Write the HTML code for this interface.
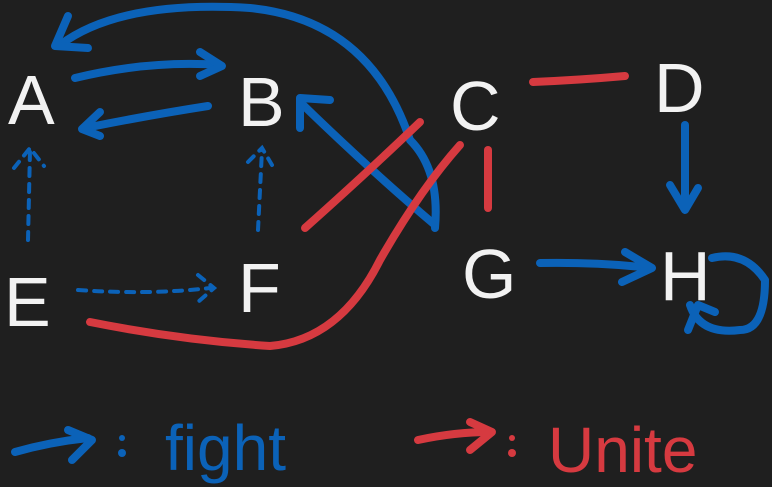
<!DOCTYPE html>
<html><head><meta charset="utf-8"><style>
html,body{margin:0;padding:0;background:#1f1f1f;}
svg{display:block}
text{font-family:"Liberation Sans",sans-serif;}
</style></head><body>
<svg width="772" height="487" viewBox="0 0 772 487" xmlns="http://www.w3.org/2000/svg">
<rect width="772" height="487" fill="#1f1f1f"/>
<g fill="#f2f2f2" font-size="70" font-family="Liberation Sans Narrow, Liberation Sans, sans-serif">
<text x="8" y="124">A</text>
<text x="238" y="126">B</text>
<text x="450" y="130">C</text>
<text x="654" y="112">D</text>
<text x="4" y="326">E</text>
<text x="238" y="312">F</text>
<text x="462" y="298">G</text>
<text x="660" y="300">H</text>
</g>
<g fill="none" stroke="#0b62b8" stroke-width="8" stroke-linecap="round" stroke-linejoin="round">
<path d="M75 78 Q150 60 220 65"/><path d="M200 52 L222 66 L200 76"/>
<path d="M208 106 Q150 115 85 128"/><path d="M100 112 L82 129 L100 136"/>
<path d="M435 228 Q440 170 410 140 Q370 20 250 8 Q120 0 60 45"/><path d="M68 16 L55 46 L88 48"/>
<path d="M435 225 Q370 170 300 102"/><path d="M300 128 L300 98 L330 100"/>
<path d="M685 125 L685 205"/><path d="M670 185 L685 210 L698 188"/>
<path d="M540 263 Q600 262 650 268"/><path d="M625 252 L652 268 L622 282"/>
<path d="M712 258 Q745 250 765 280 Q765 330 740 330 Q700 335 690 305"/><path d="M688 330 L698 305 L715 312"/>
<path d="M15 452 Q50 442 88 438"/><path d="M68 430 L92 440 L72 460"/>
</g>
<g fill="none" stroke="#0b62b8" stroke-width="4" stroke-dasharray="8 8" stroke-linecap="round">
<path d="M28 240 L30 150"/><path d="M14 168 L30 148 L44 166"/>
<path d="M258 230 L262 150"/><path d="M248 162 L262 148 L272 165"/>
<path d="M78 290 Q150 295 210 288"/><path d="M198 275 L214 288 L198 302"/>
</g>
<g fill="#0b62b8"><circle cx="122" cy="453" r="4"/><circle cx="122" cy="438" r="3"/></g>
<text x="165" y="470" fill="#0b62b8" font-size="64" font-family="Liberation Sans Narrow,Liberation Sans,sans-serif">fight</text>
<g fill="none" stroke="#d63a40" stroke-width="8" stroke-linecap="round" stroke-linejoin="round">
<path d="M533 82 Q580 80 625 76"/>
<path d="M488 150 L488 208"/>
<path d="M305 228 Q370 170 420 122"/>
<path d="M90 322 Q180 340 270 346 Q340 340 380 260 Q420 190 460 145"/>
<path d="M418 440 Q455 432 490 432"/><path d="M470 422 L492 432 L470 450"/>
</g>
<g fill="#d63a40"><circle cx="512" cy="453" r="4"/><circle cx="512" cy="438" r="3"/></g>
<text x="548" y="472" fill="#d63a40" font-size="64" font-family="Liberation Sans Narrow,Liberation Sans,sans-serif">Unite</text>
</svg>
</body></html>
